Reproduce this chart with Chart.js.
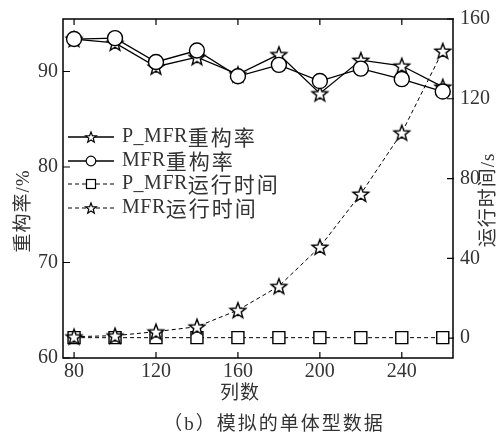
<!DOCTYPE html>
<html>
<head>
<meta charset="utf-8">
<script src="https://cdn.jsdelivr.net/npm/chart.js@4.4.1/dist/chart.umd.min.js"></script>
<style>
body { margin: 0; background: #fff; }
</style>
</head>
<body>
<canvas id="chart" width="503" height="436"></canvas>
<script>
// data
var cols = [80, 100, 120, 140, 160, 180, 200, 220, 240, 260];
var pmfrRate = [93.4, 93.0, 90.5, 91.5, 89.7, 91.8, 87.7, 91.2, 90.6, 88.4];
var mfrRate = [93.4, 93.5, 91.0, 92.2, 89.5, 90.7, 89.0, 90.3, 89.2, 87.9];
var pmfrTime = [0.2, 0.2, 0.2, 0.2, 0.2, 0.2, 0.2, 0.2, 0.2, 0.2];
var mfrTime = [0.7, 1.2, 3.2, 5.7, 14, 26, 45.7, 72.3, 103, 144];
var seriesNames = ["P_MFR重构率", "MFR重构率", "P_MFR运行时间", "MFR运行时间"];
var xTicks = [80, 120, 160, 200, 240];
var rateTicks = [60, 70, 80, 90];
var timeTicks = [0, 40, 80, 120, 160];
var xTitle = "列数";
var leftTitle = "重构率/%";
var rightTitle = "运行时间/s";
var caption = "（b）模拟的单体型数据";

var ink = "#000";
var textCol = "#333";
var serif = "'Liberation Serif', 'Noto Sans CJK SC'";

function traceStar(ctx, cx, cy, r) {
  ctx.beginPath();
  for (var i = 0; i < 10; i++) {
    var rr = i % 2 == 0 ? r : r * 0.42;
    var a = -Math.PI / 2 + i * Math.PI / 5;
    var px = cx + rr * Math.cos(a), py = cy + rr * Math.sin(a);
    if (i == 0) ctx.moveTo(px, py); else ctx.lineTo(px, py);
  }
  ctx.closePath();
}
function starImage(r) {
  var c = document.createElement("canvas");
  var s = 2 * Math.ceil(r + 2);
  c.width = s; c.height = s;
  var g = c.getContext("2d");
  traceStar(g, s / 2, s / 2 + r * 0.1, r);
  g.fillStyle = "#fff"; g.fill();
  g.lineWidth = 1.4; g.strokeStyle = ink; g.stroke();
  return c;
}
var star = starImage(8.2);

function pts(ys) {
  return cols.map(function (x, i) { return { x: x, y: ys[i] }; });
}

var frame = {
  id: "frame",
  beforeDatasetsDraw: function (chart) {
    var ctx = chart.ctx, a = chart.chartArea;
    var sx = chart.scales.x, sl = chart.scales.y, sr = chart.scales.y2;
    ctx.save();
    ctx.strokeStyle = ink;
    ctx.lineWidth = 1.5;
    ctx.strokeRect(a.left, a.top, a.right - a.left, a.bottom - a.top);
    ctx.lineWidth = 1.2;
    ctx.beginPath();
    xTicks.forEach(function (v) {
      var px = sx.getPixelForValue(v);
      ctx.moveTo(px, a.bottom); ctx.lineTo(px, a.bottom - 6);
      ctx.moveTo(px, a.top); ctx.lineTo(px, a.top + 6);
    });
    rateTicks.forEach(function (v) {
      var py = sl.getPixelForValue(v);
      ctx.moveTo(a.left, py); ctx.lineTo(a.left + 7, py);
    });
    timeTicks.forEach(function (v) {
      var py = sr.getPixelForValue(v);
      ctx.moveTo(a.right + 1, py); ctx.lineTo(a.right - 6, py);
    });
    ctx.stroke();
    ctx.restore();
  },
  afterDraw: function (chart) {
    var ctx = chart.ctx;
    ctx.save();
    ctx.fillStyle = textCol;
    ctx.textAlign = "center";
    ctx.textBaseline = "middle";
    ctx.font = "19px " + serif;
    ctx.letterSpacing = "1px";
    ctx.fillText(xTitle, 240, 394);
    ctx.font = "19px " + serif;
    ctx.letterSpacing = "2px";
    ctx.fillText(caption, 274, 425);

    ctx.letterSpacing = "1px";
    ctx.save();
    ctx.translate(24, 211);
    ctx.rotate(-Math.PI / 2);
    ctx.fillText(leftTitle, 0, 0);
    ctx.restore();
    ctx.save();
    ctx.translate(489, 200);
    ctx.rotate(-Math.PI / 2);
    ctx.fillText(rightTitle, 0, 0);
    ctx.restore();

    // legend
    var rows = [137, 161, 184, 208];
    chart.data.datasets.forEach(function (ds, i) {
      var y = rows[i];
      ctx.save();
      ctx.strokeStyle = ink;
      ctx.lineWidth = ds.borderDash ? 1 : 1.3;
      ctx.setLineDash(ds.borderDash || []);
      ctx.beginPath();
      ctx.moveTo(68, y); ctx.lineTo(114, y);
      ctx.stroke();
      ctx.setLineDash([]);
      ctx.fillStyle = "#fff";
      ctx.lineWidth = 1.2;
      if (ds.pointStyle == "circle") {
        ctx.beginPath(); ctx.arc(91, y, 4.8, 0, Math.PI * 2); ctx.fill(); ctx.stroke();
      } else if (ds.pointStyle == "rect") {
        ctx.fillRect(86.5, y - 4.5, 9, 9); ctx.strokeRect(86.5, y - 4.5, 9, 9);
      } else {
        traceStar(ctx, 91, y + 0.6, 5.6); ctx.fill(); ctx.stroke();
      }
      ctx.restore();
      var runs = ds.label.match(/[A-Za-z_]+|[^A-Za-z_]+/g);
      var x = 122;
      ctx.textAlign = "left";
      runs.forEach(function (t) {
        if (/[A-Za-z_]/.test(t)) {
          ctx.font = "20px 'Liberation Serif'";
          ctx.letterSpacing = "0.5px";
        } else {
          ctx.font = "21px 'Noto Sans CJK SC'";
          ctx.letterSpacing = "2px";
        }
        ctx.fillText(t, x, y);
        x += ctx.measureText(t).width;
      });
    });
    ctx.restore();
  }
};

var tickFont = { family: "'Liberation Serif'", size: 20 };

new Chart(document.getElementById("chart").getContext("2d"), {
  type: "line",
  data: {
    datasets: [
      {
        label: seriesNames[0], data: pts(pmfrRate), yAxisID: "y",
        borderColor: ink, borderWidth: 1.3, pointStyle: star,
        order: 1
      },
      {
        label: seriesNames[1], data: pts(mfrRate), yAxisID: "y",
        borderColor: ink, borderWidth: 1.3, pointStyle: "circle", pointRadius: 7.5,
        pointBackgroundColor: "#fff", pointBorderColor: ink, pointBorderWidth: 1.4,
        order: 0
      },
      {
        label: seriesNames[2], data: pts(pmfrTime), yAxisID: "y2",
        borderColor: ink, borderWidth: 1, borderDash: [4, 3], pointStyle: "rect", pointRadius: 8.5,
        pointBackgroundColor: "#fff", pointBorderColor: ink, pointBorderWidth: 1.4,
        order: 3
      },
      {
        label: seriesNames[3], data: pts(mfrTime), yAxisID: "y2",
        borderColor: ink, borderWidth: 1, borderDash: [4, 3], pointStyle: star,
        order: 2
      }
    ]
  },
  options: {
    responsive: false,
    animation: false,
    events: [],
    layout: { padding: { top: 18, left: 0, right: 0, bottom: 0 } },
    elements: { line: { tension: 0, fill: false } },
    plugins: { legend: { display: false }, tooltip: { enabled: false } },
    scales: {
      x: {
        type: "linear", min: 74.6, max: 265,
        afterBuildTicks: function (s) { s.ticks = xTicks.map(function (v) { return { value: v }; }); },
        afterFit: function (s) { s.height = 78; },
        grid: { display: false, drawTicks: false }, border: { display: false },
        ticks: { font: tickFont, color: textCol, padding: 2, maxRotation: 0, autoSkip: false }
      },
      y: {
        position: "left", min: 60, max: 95.5,
        afterBuildTicks: function (s) { s.ticks = rateTicks.map(function (v) { return { value: v }; }); },
        afterFit: function (s) { s.width = 63; },
        grid: { display: false, drawTicks: false }, border: { display: false },
        ticks: { font: tickFont, color: textCol, padding: 5 }
      },
      y2: {
        position: "right", min: -10, max: 160,
        afterBuildTicks: function (s) { s.ticks = timeTicks.map(function (v) { return { value: v }; }); },
        afterFit: function (s) { s.width = 50; },
        grid: { display: false, drawTicks: false }, border: { display: false },
        ticks: { font: tickFont, color: textCol, padding: 7 }
      }
    }
  },
  plugins: [frame]
});
</script>
</body>
</html>
